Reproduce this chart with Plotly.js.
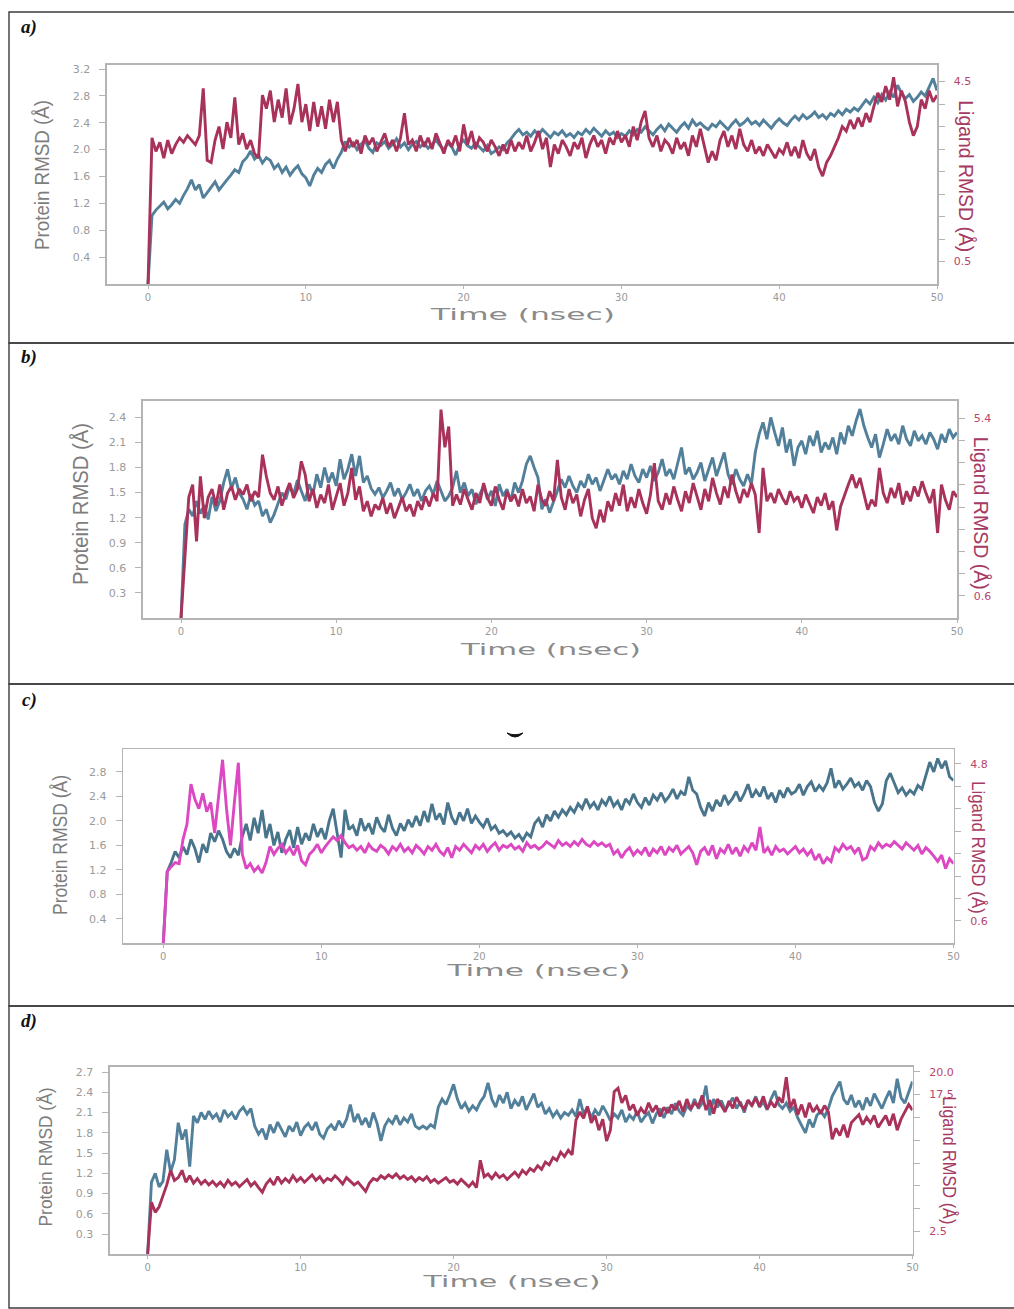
<!DOCTYPE html>
<html>
<head>
<meta charset="utf-8">
<script src="https://cdn.plot.ly/plotly-3.0.1.min.js"></script>
<style>
  html, body { margin: 0; padding: 0; background: #ffffff; }
  #fig { width: 1014px; height: 1309px; }
</style>
</head>
<body>
<div id="fig"></div>
<script>
// RMSD trajectories sampled every 0.25 ns over 50 ns (201 frames per series).
const STEP_NS = 0.25;

// Panel a: protein RMSD (Å, left axis) and ligand RMSD (Å, right axis)
const proteinA = [
  0, 1.02, 1.10, 1.16, 1.22, 1.12, 1.18, 1.26,
  1.20, 1.32, 1.42, 1.55, 1.40, 1.48, 1.28, 1.36,
  1.45, 1.52, 1.40, 1.48, 1.55, 1.62, 1.70, 1.66,
  1.82, 1.88, 1.98, 1.86, 1.92, 1.80, 1.88, 1.84,
  1.72, 1.78, 1.66, 1.74, 1.62, 1.70, 1.76, 1.64,
  1.58, 1.46, 1.62, 1.72, 1.66, 1.78, 1.84, 1.72,
  1.86, 1.96, 2.12, 2.04, 2.10, 2.00, 2.08, 2.14,
  2.02, 1.96, 2.10, 2.06, 2.12, 2.02, 2.08, 2.16,
  2.04, 2.10, 2.00, 2.08, 2.12, 2.04, 2.10, 2.02,
  2.08, 2.14, 2.06, 2.00, 2.10, 2.04, 1.92, 2.08,
  2.14, 2.06, 2.02, 2.10, 2.04, 1.98, 2.06, 1.94,
  1.98, 2.04, 2.00, 2.10, 2.16, 2.24, 2.30, 2.22,
  2.26, 2.20, 2.28, 2.22, 2.30, 2.24, 2.18, 2.26,
  2.22, 2.28, 2.20, 2.24, 2.18, 2.26, 2.22, 2.30,
  2.24, 2.32, 2.26, 2.20, 2.28, 2.22, 2.26, 2.18,
  2.24, 2.20, 2.28, 2.22, 2.30, 2.26, 2.34, 2.28,
  2.22, 2.30, 2.36, 2.28, 2.38, 2.32, 2.26, 2.34,
  2.40, 2.32, 2.44, 2.36, 2.40, 2.34, 2.30, 2.38,
  2.34, 2.42, 2.36, 2.30, 2.38, 2.44, 2.36, 2.40,
  2.46, 2.38, 2.42, 2.36, 2.44, 2.38, 2.32, 2.40,
  2.46, 2.40, 2.36, 2.44, 2.50, 2.44, 2.52, 2.46,
  2.50, 2.56, 2.48, 2.52, 2.46, 2.54, 2.50, 2.58,
  2.52, 2.60, 2.56, 2.62, 2.58, 2.66, 2.74, 2.68,
  2.78, 2.70, 2.82, 2.74, 2.86, 2.78, 2.96, 2.84,
  2.76, 2.82, 2.72, 2.78, 2.86, 2.80, 2.92, 3.06,
  2.88
];
const ligandA = [
  0, 3.25, 2.95, 3.15, 2.80, 3.20, 2.90, 3.10,
  3.25, 3.15, 3.30, 3.20, 3.10, 3.30, 4.35, 2.75,
  2.70, 3.20, 3.50, 3.00, 3.60, 3.25, 4.15, 3.10,
  3.35, 3.00, 3.20, 2.90, 2.80, 4.20, 3.90, 4.30,
  3.60, 4.10, 3.70, 4.35, 3.55, 3.90, 4.45, 3.60,
  4.00, 3.40, 4.05, 3.50, 3.95, 3.45, 4.10, 3.60,
  4.05, 3.20, 2.95, 3.25, 3.05, 3.20, 2.90, 3.30,
  3.10, 3.25, 2.95, 3.15, 3.35, 3.05, 3.20, 2.95,
  3.25, 3.80, 3.10, 3.20, 2.95, 3.30, 3.05, 3.25,
  3.00, 3.35, 3.10, 2.90, 3.20, 3.05, 3.30, 2.95,
  3.55, 3.10, 3.40, 3.00, 3.25, 3.15, 2.95, 3.20,
  3.05, 2.85, 3.10, 2.90, 3.20, 2.95, 3.15, 3.00,
  3.30, 2.95, 3.15, 3.40, 3.00, 3.25, 2.60, 3.10,
  2.90, 3.20, 3.05, 2.85, 3.15, 3.00, 3.25, 2.80,
  3.10, 3.30, 3.05, 3.20, 2.90, 3.25, 3.10, 3.40,
  3.15, 3.30, 3.05, 3.50, 3.20, 3.60, 3.85, 3.25,
  3.05, 3.30, 2.95, 3.20, 3.10, 2.90, 3.25, 3.00,
  3.15, 2.85, 3.30, 3.05, 3.45, 3.10, 2.70, 2.95,
  2.75, 3.20, 3.40, 3.05, 3.30, 3.00, 3.45, 3.10,
  2.95, 3.20, 2.90, 3.05, 2.85, 3.10, 2.95, 2.80,
  3.00, 2.90, 3.15, 2.85, 3.05, 2.80, 3.20, 2.90,
  2.75, 3.00, 2.60, 2.40, 2.70, 2.85, 3.05, 3.25,
  3.50, 3.40, 3.65, 3.45, 3.70, 3.50, 3.80, 3.60,
  3.95, 4.25, 4.05, 4.40, 4.10, 4.60, 3.95, 4.30,
  4.05, 3.60, 3.30, 3.50, 4.10, 3.90, 4.30, 4.05,
  4.20
];

// Panel b
const proteinB = [
  0, 1.12, 1.30, 1.22, 1.40, 1.25, 1.35, 1.18,
  1.45, 1.28, 1.40, 1.62, 1.78, 1.55, 1.68, 1.50,
  1.42, 1.30, 1.48, 1.35, 1.40, 1.22, 1.30, 1.14,
  1.24, 1.36, 1.50, 1.42, 1.58, 1.48, 1.65, 1.52,
  1.40, 1.60, 1.48, 1.72, 1.56, 1.80, 1.62, 1.74,
  1.58, 1.90, 1.66, 1.78, 1.96, 1.70, 1.94, 1.62,
  1.70, 1.55, 1.48, 1.56, 1.44, 1.52, 1.62, 1.46,
  1.55, 1.42, 1.50, 1.60, 1.46, 1.54, 1.40, 1.52,
  1.58, 1.48, 1.64, 1.52, 1.40, 1.46, 1.56, 1.76,
  1.50, 1.62, 1.46, 1.54, 1.36, 1.48, 1.58, 1.42,
  1.52, 1.34, 1.60, 1.46, 1.54, 1.40, 1.62, 1.50,
  1.64, 1.84, 1.94, 1.80, 1.68, 1.30, 1.42, 1.26,
  1.38, 1.52, 1.66, 1.56, 1.70, 1.58, 1.50, 1.64,
  1.56, 1.72, 1.60, 1.68, 1.52, 1.64, 1.78, 1.66,
  1.72, 1.60, 1.76, 1.66, 1.84, 1.70, 1.62, 1.78,
  1.68, 1.82, 1.64, 1.74, 1.90, 1.70, 1.78, 1.66,
  1.84, 2.04, 1.72, 1.80, 1.66, 1.74, 1.86, 1.64,
  1.78, 1.92, 1.70, 1.84, 1.98, 1.72, 1.60, 1.78,
  1.66, 1.58, 1.72, 1.60, 1.98, 2.20, 2.34, 2.14,
  2.40, 2.22, 2.06, 2.28, 1.98, 2.14, 1.82, 2.04,
  2.12, 1.96, 2.18, 2.06, 2.24, 1.98, 2.10, 2.02,
  2.16, 1.96, 2.22, 2.08, 2.30, 2.18, 2.36, 2.50,
  2.30, 2.16, 2.04, 2.20, 1.92, 2.08, 2.26, 2.12,
  2.20, 2.08, 2.30, 2.14, 2.06, 2.24, 2.12, 2.18,
  2.08, 2.22, 2.14, 2.02, 2.20, 2.10, 2.26, 2.16,
  2.22
];
const ligandB = [
  0, 1.76, 3.27, 3.61, 2.07, 3.83, 2.70, 3.27,
  3.49, 3.04, 3.61, 2.93, 3.38, 3.56, 3.20, 3.49,
  3.34, 3.61, 3.16, 3.43, 3.27, 4.42, 3.83, 3.38,
  3.20, 3.56, 3.04, 3.38, 3.65, 3.25, 3.49, 4.24,
  3.88, 3.16, 3.49, 2.98, 3.34, 3.11, 3.61, 2.93,
  3.27, 3.65, 3.04, 3.38, 4.06, 3.20, 3.56, 2.89,
  3.16, 2.75, 3.07, 2.93, 3.25, 2.82, 3.11, 2.70,
  2.98, 3.27, 2.89, 3.07, 2.75, 3.16, 2.93, 3.29,
  3.02, 3.38, 3.16, 5.64, 4.62, 5.18, 3.04, 3.34,
  3.07, 3.49, 3.20, 2.93, 3.38, 3.11, 3.65, 3.25,
  3.04, 3.56, 3.20, 2.93, 3.43, 3.16, 3.34, 3.02,
  3.49, 3.11, 3.29, 2.89, 3.61, 3.20, 3.04, 3.43,
  3.16, 4.28, 3.27, 2.93, 3.49, 3.11, 3.34, 2.75,
  3.20, 3.49, 2.70, 2.43, 2.93, 2.59, 3.16, 2.89,
  3.38, 3.04, 3.61, 2.89, 3.27, 2.98, 3.49, 3.11,
  2.82, 3.34, 4.19, 3.16, 2.93, 3.38, 3.07, 3.56,
  3.20, 2.89, 3.43, 3.11, 3.65, 3.27, 2.93, 3.49,
  3.16, 3.79, 3.38, 3.07, 3.56, 3.25, 3.88, 3.43,
  3.11, 3.49, 3.27, 3.65, 3.34, 2.30, 4.06, 3.16,
  3.38, 3.11, 3.49, 3.25, 3.07, 3.43, 3.16, 3.29,
  2.98, 3.34, 3.11, 2.84, 3.27, 3.04, 3.38, 2.93,
  3.16, 2.37, 3.02, 3.34, 3.61, 3.88, 3.52, 3.79,
  3.34, 2.93, 3.20, 3.02, 4.06, 3.38, 3.11, 3.52,
  3.25, 3.65, 3.07, 3.43, 3.16, 3.56, 3.29, 3.70,
  3.38, 3.11, 3.49, 2.30, 3.61, 3.20, 2.93, 3.43,
  3.27
];

// Panel c
const proteinC = [
  0, 1.17, 1.32, 1.50, 1.40, 1.58, 1.45, 1.70,
  1.55, 1.32, 1.62, 1.48, 1.80, 1.66, 1.84, 1.70,
  1.50, 1.40, 1.55, 1.44, 1.75, 1.95, 1.68, 2.05,
  1.80, 2.18, 1.72, 1.95, 1.60, 1.82, 1.48, 1.70,
  1.85, 1.56, 1.90, 1.62, 1.80, 1.68, 1.95, 1.74,
  1.88, 1.70, 2.00, 2.20, 1.80, 1.40, 2.18, 1.86,
  1.92, 1.76, 2.04, 1.84, 1.96, 1.78, 2.06, 1.90,
  1.82, 2.10, 1.88, 1.76, 1.96, 1.84, 2.02, 1.90,
  2.08, 1.92, 2.16, 1.98, 2.28, 2.02, 2.12, 1.94,
  2.30, 2.06, 1.94, 2.14, 2.00, 2.20, 1.96, 2.08,
  1.98, 1.90, 2.04, 1.86, 1.92, 1.80, 1.84, 1.76,
  1.82, 1.72, 1.78, 1.68, 1.80, 1.74, 1.96, 2.04,
  1.90, 2.10, 2.00, 2.16, 2.06, 2.18, 2.10, 2.22,
  2.14, 2.28, 2.20, 2.36, 2.22, 2.30, 2.18, 2.34,
  2.26, 2.40, 2.24, 2.32, 2.18, 2.36, 2.28, 2.44,
  2.30, 2.22, 2.38, 2.26, 2.42, 2.34, 2.46, 2.32,
  2.40, 2.52, 2.36, 2.48, 2.42, 2.72, 2.50, 2.44,
  2.22, 2.08, 2.30, 2.16, 2.34, 2.24, 2.42, 2.28,
  2.36, 2.48, 2.32, 2.44, 2.60, 2.38, 2.50, 2.40,
  2.56, 2.36, 2.46, 2.30, 2.50, 2.38, 2.54, 2.44,
  2.48, 2.60, 2.42, 2.56, 2.64, 2.48, 2.58, 2.50,
  2.62, 2.86, 2.54, 2.66, 2.52, 2.60, 2.70, 2.56,
  2.62, 2.50, 2.66, 2.56, 2.30, 2.16, 2.28, 2.66,
  2.78, 2.62, 2.46, 2.54, 2.42, 2.50, 2.44, 2.58,
  2.52, 2.74, 2.96, 2.80, 3.02, 2.86, 2.98, 2.72,
  2.66
];
const ligandC = [
  0, 1.92, 2.05, 2.16, 2.13, 2.78, 3.19, 4.26,
  3.85, 3.60, 4.01, 3.52, 3.77, 2.95, 3.93, 4.91,
  3.60, 2.62, 3.77, 4.83, 2.38, 2.00, 2.13, 1.93,
  2.05, 1.88, 2.16, 2.59, 2.38, 2.54, 2.65, 2.42,
  2.56, 2.36, 2.62, 2.21, 2.10, 2.38, 2.49, 2.65,
  2.42, 2.59, 2.72, 2.85, 2.75, 2.88, 2.69, 2.56,
  2.62, 2.49, 2.59, 2.42, 2.65, 2.52, 2.46, 2.62,
  2.54, 2.39, 2.59, 2.49, 2.65, 2.46, 2.56, 2.42,
  2.62, 2.52, 2.39, 2.59, 2.49, 2.65, 2.46, 2.36,
  2.56, 2.29, 2.59, 2.49, 2.65, 2.52, 2.42, 2.62,
  2.52, 2.65, 2.46, 2.59, 2.69, 2.49, 2.62, 2.56,
  2.65, 2.52, 2.59, 2.46, 2.69, 2.56, 2.62, 2.52,
  2.59, 2.72, 2.65, 2.56, 2.75, 2.62, 2.69, 2.59,
  2.72, 2.62, 2.78, 2.65, 2.59, 2.72, 2.62, 2.69,
  2.59, 2.65, 2.39, 2.49, 2.29, 2.46, 2.56, 2.36,
  2.49, 2.39, 2.56, 2.33, 2.52, 2.42, 2.59, 2.36,
  2.56, 2.46, 2.62, 2.39, 2.49, 2.59, 2.42, 2.10,
  2.46, 2.56, 2.36, 2.62, 2.26, 2.52, 2.42, 2.65,
  2.39, 2.56, 2.33, 2.59, 2.46, 2.69, 2.49, 3.11,
  2.42, 2.56, 2.36, 2.59, 2.46, 2.52, 2.39, 2.49,
  2.59, 2.42, 2.52, 2.36, 2.49, 2.23, 2.39, 2.13,
  2.29, 2.19, 2.56, 2.46, 2.65, 2.52, 2.59, 2.42,
  2.56, 2.23, 2.29, 2.59, 2.49, 2.69, 2.56, 2.65,
  2.59, 2.72, 2.62, 2.52, 2.69, 2.59, 2.49, 2.62,
  2.39, 2.56, 2.46, 2.33, 2.19, 2.36, 2.00, 2.26,
  2.13
];

// Panel d
const proteinD = [
  0, 1.07, 1.20, 1.00, 1.08, 1.55, 1.22, 1.40,
  1.95, 1.70, 1.85, 1.30, 2.05, 1.95, 2.10, 2.00,
  2.12, 2.02, 2.08, 1.96, 2.14, 2.04, 2.10, 2.00,
  2.12, 2.18, 2.08, 2.16, 1.90, 1.78, 1.86, 1.70,
  1.92, 1.80, 1.96, 1.84, 1.74, 1.90, 1.82, 1.96,
  1.76, 1.88, 1.94, 1.84, 1.96, 1.78, 1.72, 1.86,
  1.92, 1.84, 1.98, 1.88, 2.00, 2.22, 1.96, 2.08,
  1.92, 2.02, 1.88, 2.10, 1.94, 1.68, 1.90, 2.00,
  1.94, 2.06, 1.92, 2.02, 1.96, 2.08, 1.90, 1.86,
  1.90, 1.86, 1.92, 1.88, 2.18, 2.30, 2.22, 2.36,
  2.52, 2.30, 2.16, 2.24, 2.12, 2.20, 2.14, 2.26,
  2.34, 2.54, 2.30, 2.18, 2.36, 2.24, 2.40, 2.16,
  2.28, 2.20, 2.34, 2.14, 2.26, 2.38, 2.18, 2.24,
  2.08, 2.16, 2.04, 2.12, 2.02, 2.10, 2.06, 2.14,
  2.04, 2.30, 2.08, 2.18, 2.02, 2.14, 2.06, 2.20,
  2.10, 1.98, 2.08, 2.02, 2.14, 1.96, 2.06, 2.00,
  2.12, 1.96, 2.04, 2.10, 1.94, 2.08, 2.16, 2.02,
  2.18, 2.08, 2.24, 2.12, 2.06, 2.20, 2.14, 2.30,
  2.16, 2.24, 2.50, 2.06, 2.30, 2.18, 2.28, 2.14,
  2.22, 2.32, 2.16, 2.26, 2.10, 2.28, 2.20, 2.34,
  2.18, 2.26, 2.14, 2.30, 2.42, 2.22, 2.16, 2.24,
  2.12, 2.18, 2.02, 1.92, 1.80, 2.00, 1.88, 2.06,
  2.12, 2.04, 2.16, 2.34, 2.44, 2.56, 2.30, 2.22,
  2.36, 2.18, 2.28, 2.14, 2.32, 2.20, 2.38, 2.26,
  2.16, 2.30, 2.42, 2.24, 2.60, 2.32, 2.24, 2.40,
  2.56
];
const ligandD = [
  0, 5.70, 4.60, 5.20, 6.40, 7.60, 9.20, 8.10,
  8.40, 9.20, 7.90, 8.60, 7.80, 8.30, 7.70, 8.10,
  7.60, 8.00, 7.50, 7.90, 7.40, 8.10, 7.60, 7.90,
  7.40, 7.80, 8.20, 7.50, 7.90, 7.30, 6.80, 7.70,
  8.20, 7.60, 8.50, 7.80, 8.30, 7.90, 8.60, 8.00,
  8.40, 7.90, 8.30, 8.70, 8.10, 8.50, 7.90, 8.30,
  8.10, 8.60, 8.20, 7.70, 8.40, 8.00, 7.60, 7.90,
  7.40, 6.90, 7.80, 8.30, 8.10, 8.60, 8.30, 8.70,
  8.40, 8.80, 8.30, 8.60, 8.20, 8.50, 8.00, 8.40,
  8.10, 8.50, 7.90, 8.20, 7.80, 8.10, 8.40, 7.90,
  8.10, 7.70, 8.20, 7.80, 7.40, 7.90, 7.30, 10.30,
  8.50, 8.80, 8.30, 8.90, 8.40, 8.70, 8.20, 8.60,
  9.00, 8.50, 9.20, 8.80, 9.40, 9.10, 9.70, 9.30,
  10.10, 9.80, 10.60, 10.30, 11.20, 10.70, 11.40, 10.90,
  14.70, 15.60, 14.90, 16.20, 14.40, 15.20, 13.60, 14.80,
  12.40, 13.60, 17.80, 18.20, 16.60, 17.40, 15.80, 16.40,
  15.20, 16.00, 15.40, 16.60, 15.60, 16.30, 15.10, 16.10,
  15.50, 16.40, 15.80, 16.80, 15.60, 17.00, 15.90, 16.60,
  16.20, 17.40, 15.80, 16.90, 15.40, 17.00, 16.30, 15.60,
  16.80, 16.00, 17.20, 16.40, 15.90, 16.90, 16.30, 17.10,
  16.20, 17.30, 15.90, 16.70, 16.10, 17.20, 16.60, 19.40,
  16.00, 17.00, 15.30, 16.40, 15.00, 16.60, 15.60, 16.20,
  15.40, 16.30, 15.60, 12.60, 13.80, 13.00, 14.20, 12.80,
  14.40, 14.80, 15.30, 14.20, 15.00, 14.40, 15.20, 13.90,
  14.60, 15.20, 14.10, 15.40, 13.60, 14.80, 15.60, 16.40,
  15.80
];

// Tick values and labels
const timeTicks = [0, 10, 20, 30, 40, 50];
const proteinTicksA = [0.4, 0.8, 1.2, 1.6, 2.0, 2.4, 2.8, 3.2];
const proteinTicksB = [0.3, 0.6, 0.9, 1.2, 1.5, 1.8, 2.1, 2.4];
const proteinTicksC = [0.4, 0.8, 1.2, 1.6, 2.0, 2.4, 2.8];
const proteinTicksD = [0.3, 0.6, 0.9, 1.2, 1.5, 1.8, 2.1, 2.4, 2.7];
const ligandTicksA = [0.5, 1.0, 1.5, 2.0, 2.5, 3.0, 3.5, 4.0, 4.5];
const ligandLabelsA = ['0.5', '', '', '', '', '', '', '', '4.5'];
const ligandTicksB = [0.6, 1.2, 1.8, 2.4, 3.0, 3.6, 4.2, 4.8, 5.4];
const ligandLabelsB = ['0.6', '', '', '', '', '', '', '', '5.4'];
const ligandTicksC = [0.6, 1.2, 1.8, 2.4, 3.0, 3.6, 4.2, 4.8];
const ligandLabelsC = ['0.6', '', '', '', '', '', '', '4.8'];
const ligandTicksD = [2.5, 5.0, 7.5, 10.0, 12.5, 15.0, 17.5, 20.0];
const ligandLabelsD = ['2.5', '', '', '', '', '', '17.5', '20.0'];

const panelLabels = ['a)', 'b)', 'c)', 'd)'];
const proteinTitle = 'Protein RMSD (Å)';
const ligandTitle = 'Ligand RMSD (Å)';
const timeTitle = 'Time (nsec)';

// ---------------------------------------------------------------------------
const W = 1014, H = 1309;
const fx = v => v / W;        // pixel column -> paper x
const fy = v => 1 - v / H;    // pixel row -> paper y

const BLUE = '#52809b';
const BLUE_DARK = '#49758c';
const CRIMSON = '#a8325a';
const MAGENTA = '#dc48c2';
const TICK_GRAY = '#9a9a9a';
const AXIS_GRAY = '#b4b4b4';
const LIG_TICK = '#b8456c';
const LINE_W = 2.9;

const panels = [
  { protein: proteinA, ligand: ligandA, protColor: BLUE, ligColor: CRIMSON,
    box: { l: 107, r: 937, t: 65, b: 284 }, xmin: -2.6, yMax: 3.26, ligMax: 4.87,
    pTicks: proteinTicksA, lTicks: ligandTicksA, lLabels: ligandLabelsA,
    frame: [12, 343], label: [29, 27],
    pTitle: { x: 42, y: 175, len: 150, size: 21 },
    lTitle: { x: 966, y: 176, len: 152, size: 21 },
    tTitle: { x: 522, y: 315, len: 184 } },
  { protein: proteinB, ligand: ligandB, protColor: BLUE, ligColor: CRIMSON,
    box: { l: 143, r: 957, t: 400.7, b: 618 }, xmin: -2.45, yMax: 2.6, ligMax: 5.88,
    pTicks: proteinTicksB, lTicks: ligandTicksB, lLabels: ligandLabelsB,
    frame: [343, 684], label: [29, 357],
    pTitle: { x: 80, y: 504, len: 162, size: 22 },
    lTitle: { x: 982, y: 513, len: 153, size: 21 },
    tTitle: { x: 550, y: 650, len: 180 } },
  { protein: proteinC, ligand: ligandC, protColor: BLUE_DARK, ligColor: MAGENTA,
    box: { l: 123.3, r: 953.5, t: 749.3, b: 943.3 }, xmin: -2.53, yMax: 3.17, ligMax: 5.19,
    pTicks: proteinTicksC, lTicks: ligandTicksC, lLabels: ligandLabelsC,
    frame: [684, 1006], label: [29, 700],
    pTitle: { x: 60, y: 845, len: 140, size: 20 },
    lTitle: { x: 979, y: 847, len: 133, size: 19 },
    tTitle: { x: 538, y: 971, len: 183 } },
  { protein: proteinD, ligand: ligandD, protColor: BLUE, ligColor: CRIMSON,
    box: { l: 110, r: 912.5, t: 1066.7, b: 1254.3 }, xmin: -2.46, yMax: 2.78, ligMax: 20.55,
    pTicks: proteinTicksD, lTicks: ligandTicksD, lLabels: ligandLabelsD,
    frame: [1006, 1308], label: [29, 1021],
    pTitle: { x: 45, y: 1157, len: 139, size: 19 },
    lTitle: { x: 950, y: 1160, len: 128, size: 19 },
    tTitle: { x: 511, y: 1282, len: 177 } }
];

const traces = [];
const layout = {
  width: W, height: H,
  margin: { l: 0, r: 0, t: 0, b: 0, pad: 0 },
  paper_bgcolor: '#ffffff', plot_bgcolor: '#ffffff',
  showlegend: false,
  annotations: [], shapes: []
};
// textLength targets for annotations, keyed by annotation index
const stretch = {};

const tickFont = { family: 'DejaVu Sans, Verdana, sans-serif', size: 11, color: TICK_GRAY };
const xTickFont = { family: 'DejaVu Sans, Verdana, sans-serif', size: 10, color: TICK_GRAY };
const titleFamily = 'Liberation Sans Narrow, Liberation Sans, Arial, sans-serif';

function addNote(a, len) {
  layout.annotations.push(Object.assign({ xref: 'paper', yref: 'paper', showarrow: false,
    xanchor: 'center', yanchor: 'middle', borderpad: 0 }, a));
  if (len) stretch[layout.annotations.length - 1] = len;
}

panels.forEach((p, i) => {
  const xId = 'x' + (i ? i + 1 : '');
  const yL = 2 * i + 1, yR = 2 * i + 2;
  const yLId = 'y' + (yL === 1 ? '' : yL);
  const yRId = 'y' + yR;
  const times = p.protein.map((_, k) => k * STEP_NS);

  traces.push({ x: times, y: p.protein, xaxis: xId, yaxis: yLId, type: 'scatter', mode: 'lines',
    line: { color: p.protColor, width: LINE_W }, hoverinfo: 'skip' });
  traces.push({ x: times, y: p.ligand, xaxis: xId, yaxis: yRId, type: 'scatter', mode: 'lines',
    line: { color: p.ligColor, width: LINE_W }, hoverinfo: 'skip' });

  layout['xaxis' + (i ? i + 1 : '')] = {
    domain: [fx(p.box.l), fx(p.box.r)], anchor: yLId,
    range: [p.xmin, 50], tickmode: 'array', tickvals: timeTicks,
    ticks: 'outside', ticklen: 3, tickwidth: 1, tickcolor: AXIS_GRAY,
    showline: true, linecolor: AXIS_GRAY, linewidth: 1.6, mirror: true,
    showgrid: false, zeroline: false, tickfont: xTickFont, ticklabelstandoff: 0
  };
  layout['yaxis' + (yL === 1 ? '' : yL)] = {
    domain: [fy(p.box.b), fy(p.box.t)], anchor: xId,
    range: [0, p.yMax], tickmode: 'array', tickvals: p.pTicks, tickformat: '.1f',
    ticks: 'outside', ticklen: 6, tickwidth: 1, tickcolor: AXIS_GRAY,
    showline: true, linecolor: AXIS_GRAY, linewidth: 1.6,
    showgrid: false, zeroline: false, tickfont: tickFont, ticklabelstandoff: 7
  };
  layout['yaxis' + yR] = {
    overlaying: yLId, side: 'right', anchor: xId,
    range: [0, p.ligMax], tickmode: 'array', tickvals: p.lTicks, ticktext: p.lLabels,
    ticks: 'outside', ticklen: 6, tickwidth: 1, tickcolor: AXIS_GRAY,
    showline: true, linecolor: AXIS_GRAY, linewidth: 1.6,
    showgrid: false, zeroline: false,
    tickfont: { family: tickFont.family, size: 11, color: LIG_TICK }, ticklabelstandoff: 7
  };

  // panel frame
  layout.shapes.push({ type: 'rect', xref: 'paper', yref: 'paper',
    x0: fx(9), x1: fx(1030), y0: fy(p.frame[1]), y1: fy(p.frame[0]),
    line: { color: '#3c3c3c', width: 1.4 }, fillcolor: 'rgba(0,0,0,0)', layer: 'below' });

  addNote({ x: fx(p.label[0]), y: fy(p.label[1]), text: '<b><i>' + panelLabels[i] + '</i></b>',
    font: { family: 'Liberation Serif, Times New Roman, serif', size: 19, color: '#111111' } });
  addNote({ x: fx(p.pTitle.x), y: fy(p.pTitle.y), text: proteinTitle, textangle: -90,
    font: { family: titleFamily, size: p.pTitle.size, color: '#7d7d7d' } }, p.pTitle.len);
  addNote({ x: fx(p.lTitle.x), y: fy(p.lTitle.y), text: ligandTitle, textangle: 90,
    font: { family: titleFamily, size: p.lTitle.size, color: '#a63a62' } }, p.lTitle.len);
  addNote({ x: fx(p.tTitle.x), y: fy(p.tTitle.y), text: timeTitle,
    font: { family: 'DejaVu Sans, Verdana, sans-serif', size: 15, color: '#8a8a8a' } }, p.tTitle.len);
});

// small dark stroke above the third panel
(function () {
  const P = (x, y) => fx(x).toFixed(5) + ',' + fy(y).toFixed(5);
  layout.shapes.push({ type: 'path', xref: 'paper', yref: 'paper',
    path: 'M' + P(507, 733) + ' Q' + P(515, 741) + ' ' + P(523, 733) +
          ' Q' + P(515, 736.5) + ' ' + P(507, 733) + ' Z',
    fillcolor: '#111111', line: { color: '#111111', width: 1 } });
})();

Plotly.newPlot('fig', traces, layout, { staticPlot: true, displayModeBar: false }).then(gd => {
  Object.keys(stretch).forEach(idx => {
    const t = gd.querySelector('g.annotation[data-index="' + idx + '"] text.annotation-text');
    if (t) {
      t.setAttribute('textLength', stretch[idx]);
      t.setAttribute('lengthAdjust', 'spacingAndGlyphs');
    }
  });
});
</script>
</body>
</html>
